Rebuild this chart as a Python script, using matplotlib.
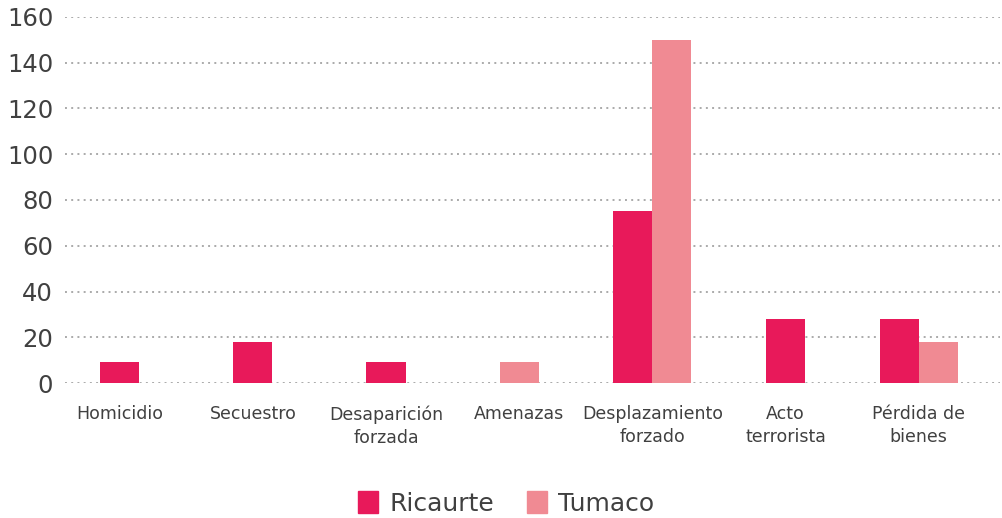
import matplotlib
matplotlib.use("Agg")
from matplotlib import pyplot as plt
from matplotlib.patches import Patch
import numpy as np

categories = ["Homicidio", "Secuestro", "Desaparición\nforzada", "Amenazas",
              "Desplazamiento\nforzado", "Acto\nterrorista", "Pérdida de\nbienes"]
ricaurte = [9, 18, 9, 0, 75, 28, 28]
tumaco = [0, 0, 0, 9, 150, 0, 18]
series_names = ["Ricaurte", "Tumaco"]
yticks = [0, 20, 40, 60, 80, 100, 120, 140, 160]

colors = ["#E8195A", "#F08A93"]
text_color = "#404040"
bar_w = 0.293

fig = plt.figure(figsize=(10.02, 5.18), dpi=100)
ax = fig.add_axes([0.0649, 0.2606, 0.9331, 0.7066])

x = np.arange(len(categories))
for i in range(len(categories)):
    vals = [ricaurte[i], tumaco[i]]
    present = [k for k in range(2) if vals[k] > 0]
    # bars present in a group are centred together on the category
    n = len(present)
    for j, k in enumerate(present):
        pos = x[i] + (j - (n - 1) / 2) * bar_w
        ax.bar(pos, vals[k], width=bar_w, color=colors[k], zorder=3)

ax.set_xlim(-0.41, 6.61)
ax.set_ylim(0, 160)
ax.set_yticks(yticks)
ax.set_xticks(x)
ax.set_xticklabels(categories, fontsize=12.5, color=text_color, linespacing=1.35)
ax.tick_params(axis="y", labelsize=17.5, labelcolor=text_color, length=0, pad=8.5)
ax.tick_params(axis="x", length=0, pad=16)
ax.yaxis.grid(True, linestyle=(0, (1, 2.2)), color="#aaaaaa", linewidth=1.4, zorder=0)
ax.set_axisbelow(True)
for s in ax.spines.values():
    s.set_visible(False)

handles = [Patch(color=colors[k], label=series_names[k]) for k in range(2)]
fig.legend(handles=handles, loc="center", bbox_to_anchor=(0.505, 0.028), ncol=2,
           frameon=False, fontsize=18, handlelength=0.8, handleheight=1.0,
           handletextpad=0.45, columnspacing=1.3, labelcolor=text_color)

fig.savefig("out.png", dpi=100)
